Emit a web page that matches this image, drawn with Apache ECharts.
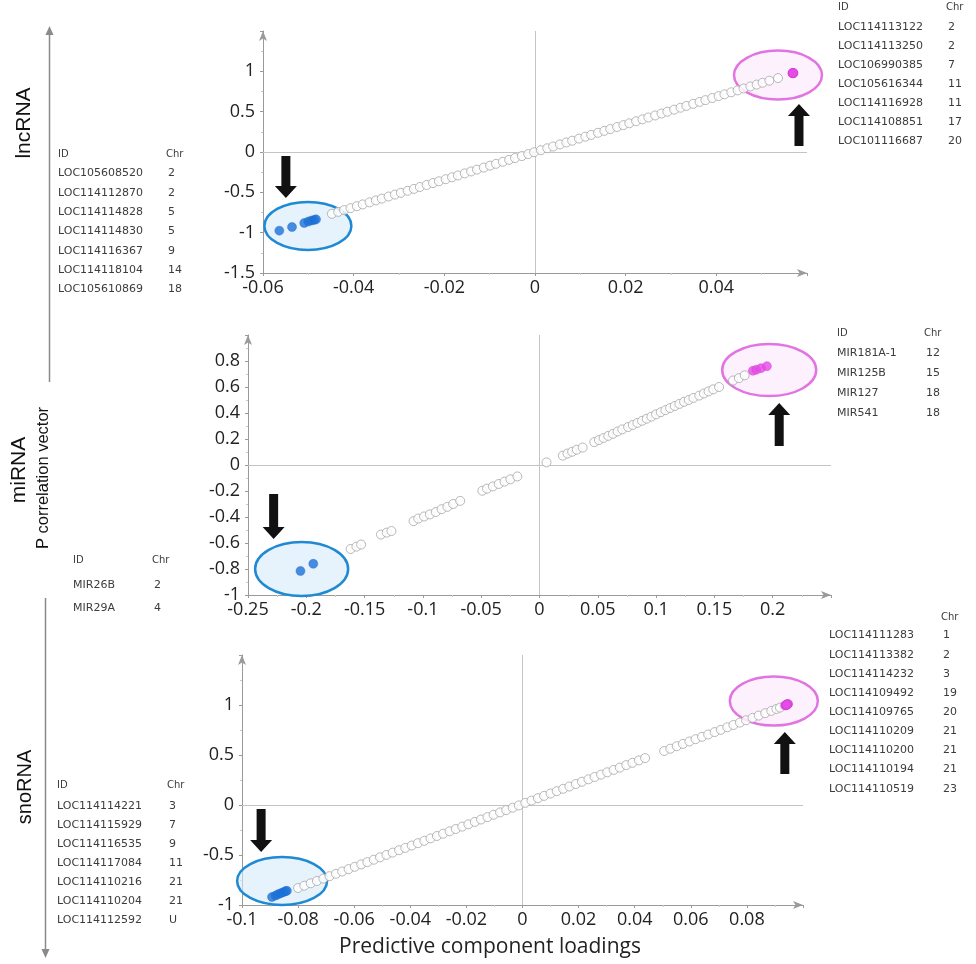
<!DOCTYPE html>
<html>
<head>
<meta charset="utf-8">
<script src="https://cdn.jsdelivr.net/npm/echarts@6/dist/echarts.min.js"></script>
<style>html,body{margin:0;padding:0;background:#fff}#c{width:976px;height:964px}</style>
</head>
<body>
<div id="c"></div>
<script>
// ---------- DATA ----------
const lncGray = [[-0.0448,-0.766],[-0.0434,-0.742],[-0.0421,-0.720],[-0.0407,-0.696],[-0.0393,-0.672],[-0.0380,-0.650],[-0.0365,-0.624],[-0.0351,-0.600],[-0.0338,-0.578],[-0.0323,-0.552],[-0.0309,-0.528],[-0.0296,-0.506],[-0.0281,-0.481],[-0.0267,-0.457],[-0.0254,-0.434],[-0.0239,-0.409],[-0.0225,-0.385],[-0.0212,-0.363],[-0.0197,-0.337],[-0.0183,-0.313],[-0.0170,-0.291],[-0.0155,-0.265],[-0.0141,-0.241],[-0.0128,-0.219],[-0.0113,-0.193],[-0.0099,-0.169],[-0.0086,-0.147],[-0.0071,-0.121],[-0.0057,-0.097],[-0.0044,-0.075],[-0.0029,-0.050],[-0.0015,-0.026],[-0.0002,-0.003],[0.0013,0.022],[0.0027,0.046],[0.0040,0.068],[0.0055,0.094],[0.0069,0.118],[0.0082,0.140],[0.0097,0.166],[0.0111,0.190],[0.0124,0.212],[0.0139,0.238],[0.0153,0.262],[0.0166,0.284],[0.0181,0.310],[0.0195,0.333],[0.0208,0.356],[0.0223,0.381],[0.0237,0.405],[0.0250,0.428],[0.0265,0.453],[0.0279,0.477],[0.0292,0.499],[0.0307,0.525],[0.0321,0.549],[0.0334,0.571],[0.0349,0.597],[0.0363,0.621],[0.0376,0.643],[0.0391,0.669],[0.0405,0.693],[0.0418,0.715],[0.0433,0.740],[0.0447,0.764],[0.0460,0.787],[0.0475,0.812],[0.0489,0.836],[0.0502,0.858],[0.0517,0.884],[0.0536,0.916]];
const lncBlue = [[-0.0564,-0.975],[-0.0536,-0.930],[-0.0509,-0.880],[-0.0500,-0.862],[-0.0493,-0.850],[-0.0487,-0.842],[-0.0483,-0.835]];
const lncPink = [[0.0569,0.978],[0.0568,0.976],[0.0570,0.980],[0.0569,0.977],[0.0568,0.979],[0.0570,0.977],[0.0569,0.980]];

const miGray = [[-0.162,-0.646],[-0.157,-0.628],[-0.153,-0.612],[-0.136,-0.535],[-0.131,-0.520],[-0.127,-0.508],[-0.108,-0.432],[-0.104,-0.412],[-0.099,-0.396],[-0.094,-0.380],[-0.089,-0.362],[-0.084,-0.340],[-0.079,-0.322],[-0.074,-0.300],[-0.068,-0.276],[-0.049,-0.198],[-0.045,-0.182],[-0.040,-0.165],[-0.035,-0.146],[-0.030,-0.128],[-0.025,-0.110],[-0.019,-0.088],[0.006,0.020],[0.020,0.072],[0.024,0.088],[0.028,0.102],[0.032,0.118],[0.037,0.134],[0.047,0.176],[0.051,0.192],[0.055,0.208],[0.059,0.224],[0.063,0.240],[0.067,0.258],[0.071,0.274],[0.076,0.292],[0.080,0.308],[0.084,0.324],[0.088,0.340],[0.092,0.356],[0.096,0.372],[0.100,0.390],[0.104,0.406],[0.108,0.422],[0.112,0.438],[0.116,0.454],[0.120,0.470],[0.124,0.486],[0.128,0.500],[0.132,0.516],[0.137,0.534],[0.141,0.550],[0.145,0.566],[0.149,0.582],[0.154,0.600],[0.166,0.650],[0.171,0.668],[0.176,0.690]];
const miBlue = [[-0.205,-0.815],[-0.194,-0.760]];
const miPink = [[0.183,0.725],[0.186,0.733],[0.190,0.745],[0.195,0.760]];

const snoGray = [[-0.0800,-0.830],[-0.0778,-0.807],[-0.0755,-0.783],[-0.0733,-0.760],[-0.0710,-0.736],[-0.0688,-0.712],[-0.0665,-0.688],[-0.0643,-0.665],[-0.0620,-0.641],[-0.0598,-0.618],[-0.0575,-0.594],[-0.0553,-0.571],[-0.0530,-0.547],[-0.0508,-0.523],[-0.0485,-0.499],[-0.0463,-0.476],[-0.0440,-0.452],[-0.0418,-0.429],[-0.0395,-0.405],[-0.0373,-0.382],[-0.0350,-0.358],[-0.0328,-0.334],[-0.0305,-0.310],[-0.0283,-0.287],[-0.0260,-0.263],[-0.0238,-0.240],[-0.0215,-0.216],[-0.0193,-0.193],[-0.0170,-0.169],[-0.0148,-0.145],[-0.0125,-0.121],[-0.0103,-0.098],[-0.0080,-0.074],[-0.0058,-0.051],[-0.0035,-0.027],[-0.0013,-0.004],[0.0010,0.021],[0.0032,0.044],[0.0055,0.068],[0.0077,0.091],[0.0100,0.115],[0.0122,0.138],[0.0145,0.162],[0.0167,0.185],[0.0190,0.210],[0.0212,0.233],[0.0235,0.257],[0.0257,0.280],[0.0280,0.304],[0.0302,0.327],[0.0325,0.351],[0.0347,0.374],[0.0370,0.399],[0.0392,0.422],[0.0415,0.446],[0.0437,0.469],[0.0505,0.540],[0.0527,0.563],[0.0550,0.588],[0.0572,0.611],[0.0595,0.635],[0.0617,0.658],[0.0640,0.682],[0.0662,0.705],[0.0685,0.729],[0.0707,0.752],[0.0730,0.777],[0.0752,0.800],[0.0775,0.824],[0.0797,0.847],[0.0820,0.871],[0.0842,0.894],[0.0865,0.918],[0.0887,0.941],[0.0905,0.960],[0.0918,0.974]];
const snoBlue = [[-0.0893,-0.920],[-0.0880,-0.905],[-0.0871,-0.893],[-0.0862,-0.882],[-0.0853,-0.872],[-0.0845,-0.862],[-0.0840,-0.858]];
const snoPink = [[0.0936,0.995],[0.0939,0.999],[0.0941,1.002],[0.0943,1.005],[0.0945,1.008],[0.0947,1.010],[0.0944,1.006],[0.0940,1.000],[0.0942,1.004]];

// axis ranges / ticks
const xRanges = [[-0.06,0.06,0.02],[-0.25,0.25,0.05],[-0.1,0.1,0.02]];
const yRanges = [[-1.5,1.5,0.5],[-1,1,0.2],[-1,1.5,0.5]];
const xTitle = 'Predictive component loadings';

// tables
const lncDownIds = ['LOC105608520','LOC114112870','LOC114114828','LOC114114830','LOC114116367','LOC114118104','LOC105610869'];
const lncDownChr = ['2','2','5','5','9','14','18'];
const lncUpIds = ['LOC114113122','LOC114113250','LOC106990385','LOC105616344','LOC114116928','LOC114108851','LOC101116687'];
const lncUpChr = ['2','2','7','11','11','17','20'];
const miDownIds = ['MIR26B','MIR29A'];
const miDownChr = ['2','4'];
const miUpIds = ['MIR181A-1','MIR125B','MIR127','MIR541'];
const miUpChr = ['12','15','18','18'];
const snoDownIds = ['LOC114114221','LOC114115929','LOC114116535','LOC114117084','LOC114110216','LOC114110204','LOC114112592'];
const snoDownChr = ['3','7','9','11','21','21','U'];
const snoUpIds = ['LOC114111283','LOC114113382','LOC114114232','LOC114109492','LOC114109765','LOC114110209','LOC114110200','LOC114110194','LOC114110519'];
const snoUpChr = ['1','2','3','19','20','21','21','21','23'];

// highlighted-group ellipses (centre in data units)
const blueCentres = [[-0.0501,-0.916],[-0.204,-0.80],[-0.0857,-0.76]];
const pinkCentres = [[0.0536,0.953],[0.197,0.73],[0.0896,1.04]];

// ---------- CHART ----------
const chart = echarts.init(document.getElementById('c'), null, {renderer:'canvas'});
const AX = '#9a9a9a';
const labelFont = {fontFamily:'Open Sans', fontSize:18, color:'#222'};

const grids = [
  {left:263, top:31, width:544, height:242},
  {left:248, top:335, width:583, height:260},
  {left:242, top:655, width:561, height:250}
].map(g => Object.assign({containLabel:false, outerBoundsMode:'none'}, g));

function xAxisFor(i){
  const r = xRanges[i];
  return {
    type:'value', gridIndex:i, min:r[0], max:r[1], interval:r[2],
    axisLine:{onZero:false, lineStyle:{color:AX, width:1}, symbol:['none','arrow'], symbolSize:[6,10]},
    axisTick:{show:true, length:3, lineStyle:{color:AX}},
    minorTick:{show:true, splitNumber:2, length:2, lineStyle:{color:'#c8c8c8'}},
    axisLabel:Object.assign({margin:6, showMaxLabel:false}, labelFont),
    splitLine:{show:false}
  };
}
function yAxisFor(i){
  const r = yRanges[i];
  return {
    type:'value', gridIndex:i, min:r[0], max:r[1], interval:r[2],
    axisLine:{onZero:false, lineStyle:{color:AX, width:1}, symbol:['none','arrow'], symbolSize:[6,10]},
    axisTick:{show:true, length:3, lineStyle:{color:AX}},
    minorTick:{show:true, splitNumber:2, length:2, lineStyle:{color:'#c8c8c8'}},
    axisLabel:Object.assign({margin:8, showMaxLabel:false}, labelFont),
    splitLine:{show:false}
  };
}

const grayData = [lncGray, miGray, snoGray];
const blueData = [lncBlue, miBlue, snoBlue];
const pinkData = [lncPink, miPink, snoPink];
const series = [];
for (let i=0;i<3;i++){
  series.push({
    type:'scatter', xAxisIndex:i, yAxisIndex:i, data:grayData[i], symbol:'circle', symbolSize:9, silent:true,
    itemStyle:{color:'#ffffff', borderColor:'#a6a6a6', borderWidth:1},
    markLine:{silent:true, symbol:'none', label:{show:false}, lineStyle:{color:'#c4c4c4', width:1, type:'solid'},
      data:[{xAxis:0},{yAxis:0}], z:1}
  });
  series.push({type:'scatter', xAxisIndex:i, yAxisIndex:i, data:blueData[i], symbol:'circle', symbolSize:9, silent:true,
    itemStyle:{color:'#1d72d8', borderColor:'#1a66c8', borderWidth:0.5}, z:4});
  series.push({type:'scatter', xAxisIndex:i, yAxisIndex:i, data:pinkData[i], symbol:'circle', symbolSize:9, silent:true,
    itemStyle:{color:'#e54be6', borderColor:'#c93cc9', borderWidth:0.5}, z:4});
}

chart.setOption({
  animation:false,
  backgroundColor:'#ffffff',
  grid:grids,
  xAxis:[0,1,2].map(xAxisFor),
  yAxis:[0,1,2].map(yAxisFor),
  series:series
});

// ---------- ANNOTATIONS ----------
const G = [];
const blueR = [[43.5,24],[46.5,27],[45,24]];
const pinkR = [[44,24.5],[47,26],[44,24.5]];
// arrow tip offsets from ellipse centres (px) and lengths
const downArrow = [[-22,-28,42],[-28,-30,45],[-21,-29,43]];
const upArrow = [[21,29,42],[10,33,43],[11,31,42]];

function arrowPoly(tx, ty, L, dir){ // dir 1 = pointing down, -1 = up
  const s = 4.5, h = 11, hl = 12;
  const b = ty - dir*L, n = ty - dir*hl;
  return [[tx-s,b],[tx+s,b],[tx+s,n],[tx+h,n],[tx,ty],[tx-h,n],[tx-s,n]];
}

for (let i=0;i<3;i++){
  const pb = chart.convertToPixel({xAxisIndex:i, yAxisIndex:i}, blueCentres[i]);
  const pp = chart.convertToPixel({xAxisIndex:i, yAxisIndex:i}, pinkCentres[i]);
  G.push({type:'ellipse', z:1, silent:true, shape:{cx:pb[0], cy:pb[1], rx:blueR[i][0], ry:blueR[i][1]},
    style:{fill:'rgba(214,234,250,0.6)', stroke:'#1f8ad3', lineWidth:2.5}});
  G.push({type:'ellipse', z:1, silent:true, shape:{cx:pp[0], cy:pp[1], rx:pinkR[i][0], ry:pinkR[i][1]},
    style:{fill:'rgba(252,232,252,0.6)', stroke:'#e274e2', lineWidth:2.5}});
  const d = downArrow[i], u = upArrow[i];
  G.push({type:'polygon', z:10, silent:true, shape:{points:arrowPoly(pb[0]+d[0], pb[1]+d[1], d[2], 1)}, style:{fill:'#111'}});
  G.push({type:'polygon', z:10, silent:true, shape:{points:arrowPoly(pp[0]+u[0], pp[1]+u[1], u[2], -1)}, style:{fill:'#111'}});
}

function txt(x, y, s, opt){
  opt = opt || {};
  return {type:'text', x:x, y:y, z:10, silent:true, rotation:opt.rot||0,
    style:{text:s, fill:opt.color||'#3c3c3c', fontSize:opt.size||11, fontFamily:opt.family||'DejaVu Sans',
      align:opt.align||'left', verticalAlign:'middle', textAlign:opt.align||'left', textVerticalAlign:'middle'}};
}
function table(ids, chrs, xId, xChr, yHead, y0, step, showIdHead){
  if (showIdHead) G.push(txt(xId, yHead, 'ID', {size:10}));
  G.push(txt(xChr, yHead, 'Chr', {size:10}));
  ids.forEach((s,k)=>{
    G.push(txt(xId, y0+k*step, s));
    G.push(txt(xChr+2, y0+k*step, chrs[k]));
  });
}
table(lncDownIds, lncDownChr, 58, 166, 154, 173.5, 19.3, true);
table(lncUpIds, lncUpChr, 838, 946, 7, 27, 19, true);
table(miDownIds, miDownChr, 73, 152, 560, 585, 23.5, true);
table(miUpIds, miUpChr, 837, 924, 333, 353, 20, true);
table(snoDownIds, snoDownChr, 57, 167, 785, 806, 19, true);
table(snoUpIds, snoUpChr, 829, 941, 617, 635.5, 19.15, false);

// x-axis title (shared)
G.push(txt(490, 947, xTitle, {size:21, family:'Open Sans', color:'#222', align:'center'}));

// side labels
G.push(txt(24, 123, 'lncRNA', {rot:Math.PI/2, size:21, family:'Liberation Sans', color:'#111', align:'center'}));
G.push(txt(19, 470, 'miRNA', {rot:Math.PI/2, size:21, family:'Liberation Sans', color:'#111', align:'center'}));
G.push(txt(43, 478, 'P correlation vector', {rot:Math.PI/2, size:16.5, family:'Liberation Sans', color:'#111', align:'center'}));
G.push(txt(25, 787, 'snoRNA', {rot:Math.PI/2, size:20, family:'Liberation Sans', color:'#111', align:'center'}));

// long side arrow
G.push({type:'line', silent:true, shape:{x1:49.5, y1:33, x2:49.5, y2:382}, style:{stroke:'#8a8a8a', lineWidth:1.5}});
G.push({type:'polygon', silent:true, shape:{points:[[49.5,26],[45.5,35],[53.5,35]]}, style:{fill:'#8a8a8a'}});
G.push({type:'line', silent:true, shape:{x1:45.5, y1:598, x2:45.5, y2:950}, style:{stroke:'#8a8a8a', lineWidth:1.5}});
G.push({type:'polygon', silent:true, shape:{points:[[45.5,958],[41.5,949],[49.5,949]]}, style:{fill:'#8a8a8a'}});

chart.setOption({graphic:G});
</script>
</body>
</html>
